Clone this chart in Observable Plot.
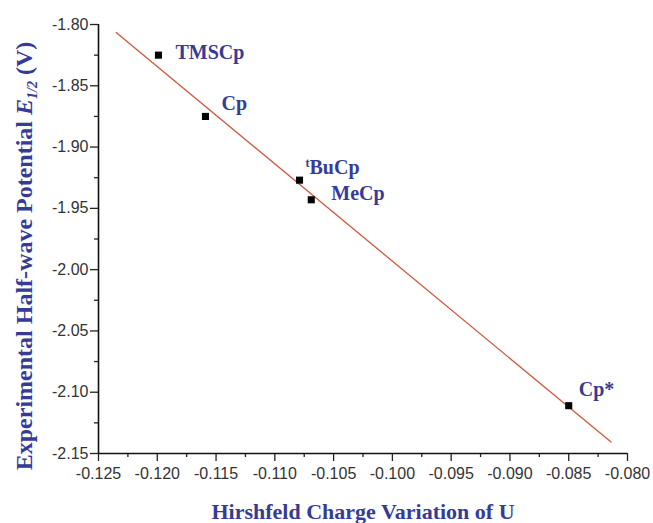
<!DOCTYPE html>
<html>
<head>
<meta charset="utf-8">
<script src="https://cdn.jsdelivr.net/npm/d3@7"></script>
<script src="https://cdn.jsdelivr.net/npm/@observablehq/plot@0.6"></script>
<style>
  html, body { margin: 0; padding: 0; background: #fff; }
  #chart { width: 653px; height: 523px; }
</style>
</head>
<body>
<div id="chart"></div>
<script>
// Data
const ligands = ["TMSCp", "Cp", "tBuCp", "MeCp", "Cp*"];
const charge = [-0.1199, -0.1159, -0.1079, -0.1069, -0.0850];
const potential = [-1.825, -1.875, -1.927, -1.943, -2.111];
// fitted line endpoints as drawn
const fitX = [-0.1235, -0.0814];
const fitY = [-1.8066, -2.1407];
// tick values
const xTicks = [-0.125, -0.120, -0.115, -0.110, -0.105, -0.100, -0.095, -0.090, -0.085, -0.080];
const yTicks = [-1.80, -1.85, -1.90, -1.95, -2.00, -2.05, -2.10, -2.15];
const xMinor = [-0.1225, -0.1175, -0.1125, -0.1075, -0.1025, -0.0975, -0.0925, -0.0875, -0.0825];
const yMinor = [-1.825, -1.875, -1.925, -1.975, -2.025, -2.075, -2.125];

const labelOffsets = [[17, -3], [16, -13], [6, -13], [20, -6], [10, -16]];

const blue = "#363b97";
const serif = "'Liberation Serif', 'Times New Roman', serif";
const sans = "'Liberation Sans', Arial, sans-serif";

const pts = ligands.map((name, i) => ({name, x: charge[i], y: potential[i]}));
const fit = fitX.map((x, i) => ({x, y: fitY[i]}));

const labelMarks = pts.map((p, i) => Plot.text([p], {
  x: "x", y: "y", text: "name",
  dx: labelOffsets[i][0], dy: labelOffsets[i][1],
  textAnchor: "start", lineAnchor: "middle",
  fill: blue, fontSize: 20, fontWeight: "bold", fontFamily: serif
}));

const chart = Plot.plot({
  width: 653,
  height: 523,
  marginLeft: 98,
  marginRight: 26,
  marginTop: 24,
  marginBottom: 70,
  style: {fontFamily: sans, fontSize: "16px", color: "#333", background: "#fff"},
  x: {domain: [-0.125, -0.080]},
  y: {domain: [-2.15, -1.80]},
  marks: [
    Plot.axisX({ticks: xTicks, tickSize: 8, tickPadding: 6, tickFormat: d => d.toFixed(3), label: null, stroke: "#222", strokeWidth: 1.3, fill: "#333"}),
    Plot.axisX({ticks: xMinor, tickSize: 4, text: null, label: null, stroke: "#222", strokeWidth: 1.3}),
    Plot.axisY({ticks: yTicks, tickSize: 8, tickPadding: 2, tickFormat: d => d.toFixed(2), label: null, stroke: "#222", strokeWidth: 1.3, fill: "#333"}),
    Plot.axisY({ticks: yMinor, tickSize: 4, text: null, label: null, stroke: "#222", strokeWidth: 1.3}),
    Plot.ruleX([-0.125], {stroke: "#111", strokeWidth: 1.6}),
    Plot.ruleY([-2.15], {stroke: "#111", strokeWidth: 1.6}),
    Plot.line(fit, {x: "x", y: "y", stroke: "#d4573c", strokeWidth: 1.3}),
    Plot.dot(pts, {x: "x", y: "y", symbol: "square", r: 4, fill: "#000", stroke: "none"}),
    ...labelMarks,
    Plot.text(["Hirshfeld Charge Variation of U"], {
      frameAnchor: "bottom", text: d => d, dy: 58, lineAnchor: "middle", textAnchor: "middle",
      fill: blue, fontSize: 22, fontWeight: "bold", fontFamily: serif
    }),
    Plot.text(["YLABEL"], {
      frameAnchor: "left", text: d => d, rotate: -90, dx: -74, dy: 17, lineAnchor: "middle", textAnchor: "middle",
      fill: blue, fontSize: 24, fontWeight: "bold", fontFamily: serif
    })
  ]
});

document.getElementById("chart").appendChild(chart);

// tick label size
d3.select(chart).selectAll('g[aria-label$="tick label"]').attr("font-size", null).style("font-size", "16px")
  .selectAll("text").style("font-size", "16px");

// rich text: superscript t, italic E with subscript
d3.select(chart).selectAll("text").each(function() {
  const t = d3.select(this);
  const s = this.textContent;
  if (s === "tBuCp") {
    t.text(null);
    t.append("tspan").attr("font-size", 12).attr("dy", -7).text("t");
    t.append("tspan").attr("dy", 7).text("BuCp");
  } else if (s === "YLABEL") {
    t.text(null);
    t.append("tspan").text("Experimental Half-wave Potential ");
    t.append("tspan").attr("font-style", "italic").text("E");
    t.append("tspan").attr("font-size", 14).attr("font-style", "italic").attr("dy", 5).text("1/2");
    t.append("tspan").attr("dy", -5).text(" (V)");
  }
});
</script>
</body>
</html>
